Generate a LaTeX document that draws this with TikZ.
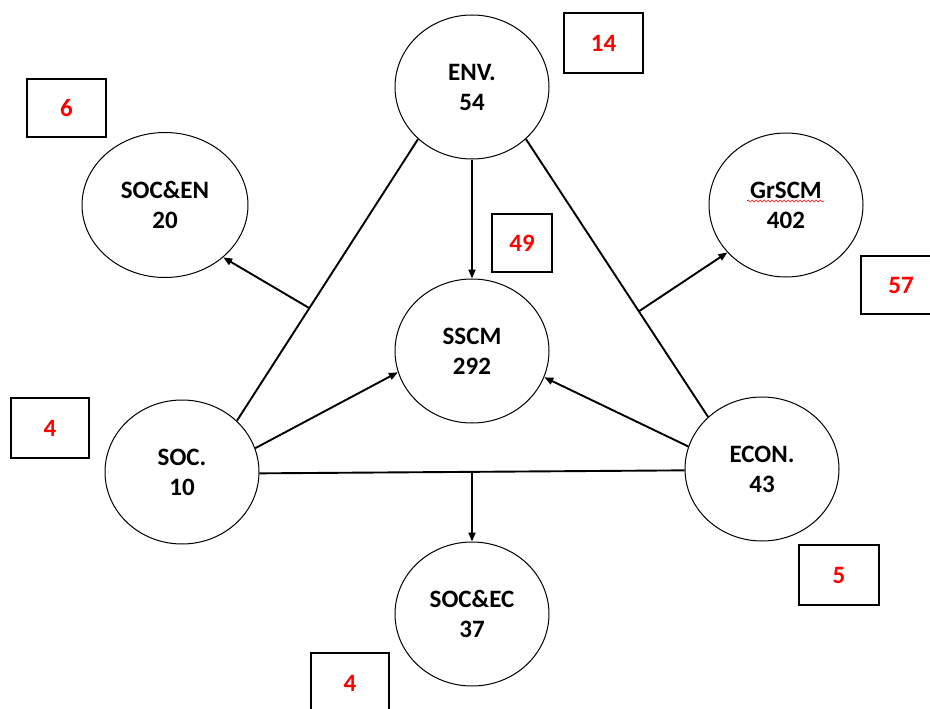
\documentclass[tikz,border=0pt]{standalone}
\usepackage{fontspec}
\setmainfont{Carlito}
\usetikzlibrary{shapes.geometric,arrows.meta,calc,decorations.pathmorphing}
\begin{document}
\begin{tikzpicture}[x=1pt,y=-1pt,
  circ/.style={ellipse,draw=black,line width=1pt,minimum width=154pt,minimum height=144pt,inner sep=0pt,align=center,font=\bfseries\fontsize{25}{30}\selectfont},
  countbox/.style={rectangle,draw=black,line width=2.4pt,minimum width=78pt,minimum height=58pt,inner sep=0pt,text=red,font=\bfseries\fontsize{25}{30}\selectfont},
  link/.style={line width=1.9pt,draw=black},
  arr/.style={link,-{Triangle[length=9pt,width=7pt]}}]
\useasboundingbox (0,0) rectangle (930,709);
\clip (0,0) rectangle (930,709);
\fill[white] (0,0) rectangle (930,709);

\node[circ] (env) at (472,87) {ENV.\\54};
\node[circ,minimum width=166pt,minimum height=145pt] (socen) at (165,205) {SOC\&EN\\20};
\node[circ] (grscm) at (786,205) {GrSCM\\402};
\node[circ] (sscm) at (472,351) {SSCM\\292};
\node[circ] (soc) at (182,472) {SOC.\\10};
\node[circ] (econ) at (762,469) {ECON.\\43};
\node[circ] (socec) at (472,614) {SOC\&EC\\37};

\node[countbox,minimum width=79pt,minimum height=60pt] (b14) at (603.5,43) {14};
\node[countbox,minimum width=60pt,minimum height=58pt] (b49) at (522,243) {49};
\node[countbox,minimum width=79pt] (b6) at (66.5,108) {6};
\node[countbox,minimum width=80pt] (b57) at (901,285) {57};
\node[countbox,minimum height=60pt] (b4l) at (50,428) {4};
\node[countbox,minimum width=80pt,minimum height=60pt] (b5) at (839,575) {5};
\node[countbox,minimum height=60pt] (b4b) at (350,683) {4};

% spell-check underline
\coordinate (w1) at (747,201);
\coordinate (w2) at (824,201);
\draw[red,line width=0.6pt,decorate,decoration={snake,amplitude=1pt,segment length=4pt}] (w1) -- (w2);

% triangle
\draw[link] (env.224) -- (soc.43.4);
\draw[link] (env.316.6) -- (econ.136);
\draw[link] (soc.359) -- (econ.181);

\coordinate (pl) at ($(env.224)!0.6!(soc.43.4)$);
\coordinate (pr) at ($(env.316.6)!0.62!(econ.136)$);
\coordinate (pb) at ($(soc.359)!0.5!(econ.181)$);

\draw[arr] (env.south) -- (sscm.north);
\draw[arr] (soc.18.7) -- (sscm.196.9);
\draw[arr] (econ.163.4) -- (sscm.340.4);
\draw[arr] (pl) -- (socen.318.6);
\draw[arr] (pr) -- (grscm.219.6);
\draw[arr] (pb) -- (socec.north);
\end{tikzpicture}
\end{document}
